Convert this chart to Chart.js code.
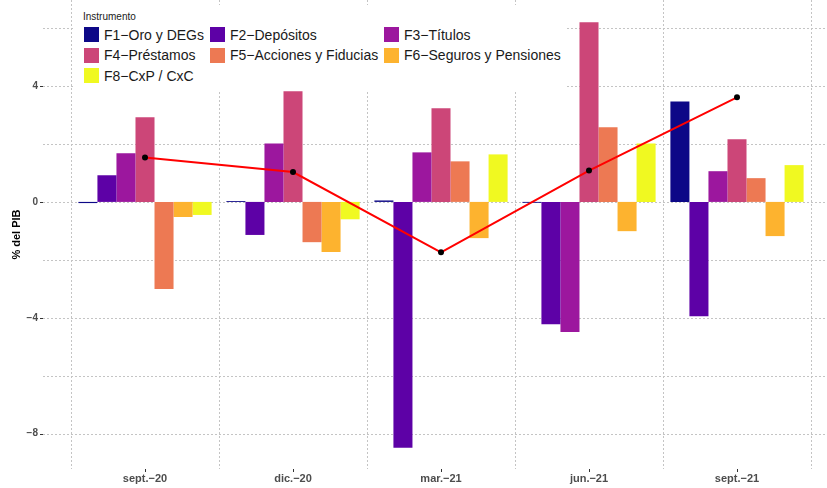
<!DOCTYPE html>
<html>
<head>
<meta charset="utf-8">
<script src="https://cdn.jsdelivr.net/npm/chart.js@4/dist/chart.umd.min.js"></script>
<style>
  body { margin: 0; background: #fff; }
  #wrap { position: relative; width: 827px; height: 488px; }
  #legend {
    position: absolute; left: 75px; top: 5px; width: 491px; height: 85px;
    background: #fff; font-family: "Liberation Sans", Arial, sans-serif; color: #1a1a1a;
  }
  #legend .title { position: absolute; left: 8px; top: 6px; font-size: 10px; }
  #legend .item { position: absolute; height: 15px; display: flex; align-items: center; font-size: 14px; white-space: nowrap; }
  #legend .key { width: 15px; height: 15px; margin-right: 5px; }
</style>
</head>
<body>
<div id="wrap">
  <canvas id="chart" width="827" height="488"></canvas>
  <div id="legend"><div class="title">Instrumento</div></div>
</div>
<script>
const categories = ['sept.−20', 'dic.−20', 'mar.−21', 'jun.−21', 'sept.−21'];

const seriesNames = ['F1−Oro y DEGs', 'F2−Depósitos', 'F3−Títulos', 'F4−Préstamos',
                     'F5−Acciones y Fiducias', 'F6−Seguros y Pensiones', 'F8−CxP / CxC'];
const seriesColors = ['#0d0887', '#5d01a6', '#9c179e', '#cc4678', '#ed7953', '#fdb32f', '#f0f921'];

const f1 = [-0.04, 0.03, 0.05, -0.03, 3.47];
const f2 = [0.92, -1.14, -8.49, -4.22, -3.95];
const f3 = [1.68, 2.02, 1.71, -4.49, 1.06];
const f4 = [2.92, 3.82, 3.23, 6.20, 2.16];
const f5 = [-3.01, -1.39, 1.40, 2.58, 0.82];
const f6 = [-0.52, -1.73, -1.25, -1.01, -1.18];
const f8 = [-0.45, -0.60, 1.64, 2.02, 1.27];
const total = [1.53, 1.03, -1.74, 1.08, 3.61];

const yGridValues = [-8, -6, -4, -2, 0, 2, 4, 6];
const yLabels = [-8, -4, 0, 4];

const seriesValues = [f1, f2, f3, f4, f5, f6, f8];
const gridColor = '#c4c4c4';
const axisText = '#4d4d4d';

// legend (3 columns, like the ggplot one)
const legend = document.getElementById('legend');
const colX = [9, 135, 309];
const rowY = [22, 42.5, 63];
seriesNames.forEach((name, i) => {
  const item = document.createElement('div');
  item.className = 'item';
  item.style.left = colX[i % 3] + 'px';
  item.style.top = rowY[Math.floor(i / 3)] + 'px';
  item.innerHTML = '<span class="key" style="background:' + seriesColors[i] + '"></span><span>' + name + '</span>';
  legend.appendChild(item);
});

// horizontal grid spans wider than the bars area, plus the short tick marks
const gridExtra = {
  id: 'gridExtra',
  beforeDatasetsDraw(chart) {
    const { ctx, chartArea, scales: { x, y } } = chart;
    ctx.save();
    ctx.strokeStyle = gridColor;
    ctx.lineWidth = 1;
    ctx.setLineDash([2, 2]);
    yGridValues.forEach(v => {
      const py = Math.round(y.getPixelForValue(v)) + 0.5;
      ctx.beginPath();
      ctx.moveTo(y.right - 28, py);
      ctx.lineTo(chart.width - 1, py);
      ctx.stroke();
    });
    ctx.setLineDash([]);
    ctx.strokeStyle = '#333333';
    yLabels.forEach(v => {
      const py = Math.round(y.getPixelForValue(v)) + 0.5;
      ctx.beginPath();
      ctx.moveTo(y.right - 31, py);
      ctx.lineTo(y.right - 28, py);
      ctx.stroke();
    });
    categories.forEach((c, i) => {
      const px = Math.round(x.getPixelForValue(i)) + 0.5;
      ctx.beginPath();
      ctx.moveTo(px, chartArea.bottom);
      ctx.lineTo(px, chartArea.bottom + 3);
      ctx.stroke();
    });
    ctx.restore();
  }
};

const datasets = seriesNames.map((name, i) => ({
  label: name,
  data: seriesValues[i],
  backgroundColor: seriesColors[i],
  barPercentage: 1,
  categoryPercentage: 0.9,
  order: 1
}));
datasets.push({
  type: 'line',
  label: 'Total',
  data: total,
  borderColor: '#ff0000',
  borderWidth: 2,
  pointRadius: 3,
  pointBackgroundColor: '#000000',
  pointBorderWidth: 0,
  order: 0
});

Chart.defaults.font.family = '"Liberation Sans", Arial, sans-serif';

new Chart(document.getElementById('chart').getContext('2d'), {
  type: 'bar',
  data: { labels: categories, datasets: datasets },
  options: {
    responsive: false,
    animation: false,
    devicePixelRatio: 1,
    layout: { autoPadding: false, padding: { left: 0, right: 16, top: 0, bottom: 0 } },
    plugins: { legend: { display: false }, tooltip: { enabled: false } },
    scales: {
      x: {
        offset: true,
        grid: { color: gridColor, lineWidth: 1, offset: true, drawTicks: false },
        border: { display: false, dash: [2, 2] },
        ticks: { color: axisText, font: { size: 11, weight: 'bold' }, padding: 3, maxRotation: 0 },
        afterFit(scale) { scale.height = 19; }
      },
      y: {
        min: -9.22,
        max: 6.97,
        afterBuildTicks(scale) { scale.ticks = yGridValues.map(v => ({ value: v })); },
        grid: { display: false, drawTicks: false },
        border: { display: false },
        ticks: {
          color: axisText,
          font: { size: 10, weight: 'bold' },
          padding: 33,
          callback: v => yLabels.includes(v) ? String(v).replace('-', '−') : ''
        },
        title: {
          display: true,
          text: '% del PIB',
          color: '#000000',
          font: { size: 11, weight: 'bold' },
          padding: { top: 10, bottom: 0 }
        },
        afterFit(scale) {
          scale.width = 71;
          scale.paddingTop = 0;
          scale.paddingBottom = 0;
        }
      }
    }
  },
  plugins: [gridExtra]
});
</script>
</body>
</html>
